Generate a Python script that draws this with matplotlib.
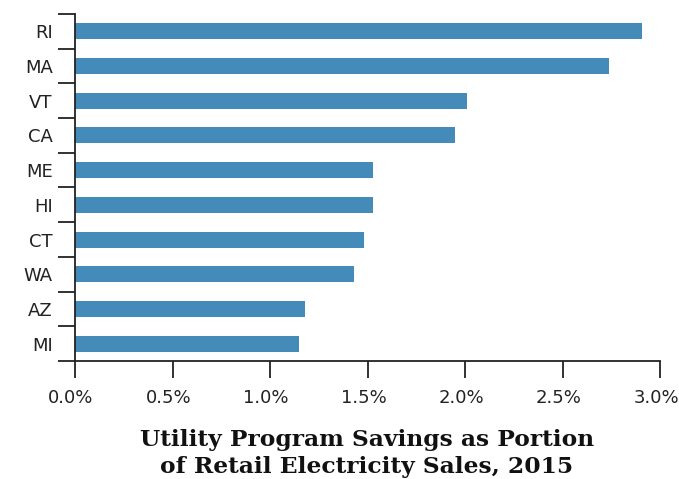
import numpy as np
import matplotlib.pyplot as plt
import matplotlib.transforms as mtransforms
from matplotlib.ticker import FuncFormatter, FixedLocator

states = ["RI", "MA", "VT", "CA", "ME", "HI", "CT", "WA", "AZ", "MI"]
savings = [2.91, 2.74, 2.01, 1.95, 1.53, 1.53, 1.48, 1.43, 1.18, 1.15]
x_ticks = [0.0, 0.5, 1.0, 1.5, 2.0, 2.5, 3.0]
title_lines = ["Utility Program Savings as Portion",
               "of Retail Electricity Sales, 2015"]

W, H = 679, 479
fig = plt.figure(figsize=(W / 100, H / 100), dpi=100)
ax = fig.add_axes([75 / W, 1 - 361 / H, (660 - 75) / W, (361 - 14) / H])

y = np.arange(len(states))
ax.barh(y, savings, height=0.46, color="#448bb9", zorder=2)
ax.set_ylim(len(states) - 0.5, -0.5)
ax.set_xlim(0, 3.0)

ax.set_yticks(y)
ax.set_yticklabels(states)
ax.yaxis.set_minor_locator(FixedLocator(np.arange(-0.5, len(states), 1.0)))
ax.tick_params(axis="y", which="major", length=0, pad=16)
ax.tick_params(axis="y", which="minor", length=12, width=1.3, color="#222222")

ax.set_xticks(x_ticks)
ax.xaxis.set_major_formatter(FuncFormatter(lambda v, p: "{:.1f}%".format(v)))
ax.tick_params(axis="x", length=12, width=1.3, color="#222222", pad=8)

shift = mtransforms.ScaledTranslation(-4 / 100, 0, fig.dpi_scale_trans)
for lab in ax.get_xticklabels():
    lab.set_transform(lab.get_transform() + shift)

for lab in ax.get_xticklabels() + ax.get_yticklabels():
    lab.set_fontfamily("DejaVu Sans")
    lab.set_fontsize(13)
    lab.set_color("#222222")

for s in ["top", "right"]:
    ax.spines[s].set_visible(False)
ax.spines["left"].set_linewidth(1.3)
ax.spines["bottom"].set_linewidth(1.3)
ax.spines["left"].set_color("#222222")
ax.spines["bottom"].set_color("#222222")

# two title lines placed under the axis
for line, ypx in zip(title_lines, [446, 473]):
    fig.text(367 / W, 1 - ypx / H, line, ha="center", va="baseline",
             fontfamily="DejaVu Serif", fontweight="bold", fontsize=16.8,
             color="#111111")

fig.savefig("out.png", dpi=100)
